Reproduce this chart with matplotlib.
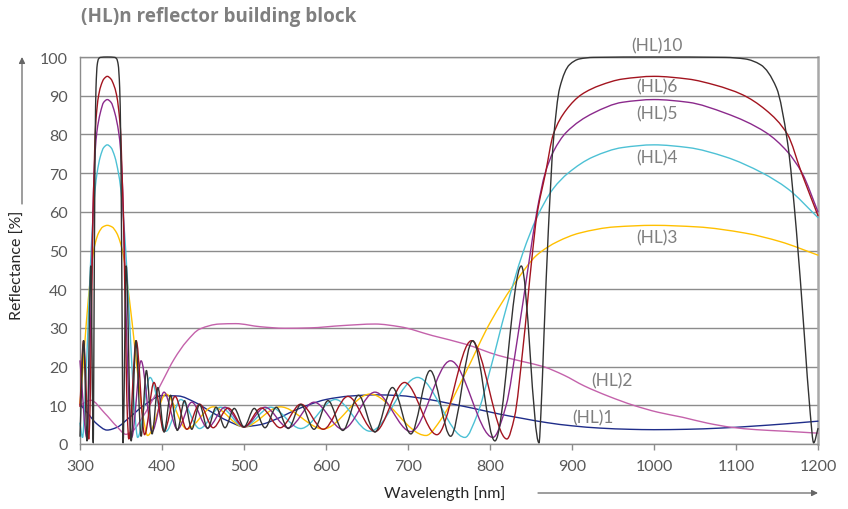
import numpy as np
import matplotlib
matplotlib.use("Agg")
import matplotlib.pyplot as plt
from matplotlib.path import Path
from matplotlib.patches import PathPatch

plt.rcParams['font.family'] = ['Lato', 'DejaVu Sans']

# ---------------- data ----------------
wl_hl1 = [300, 310, 320, 333, 345, 360, 380, 400, 420, 440, 460, 480, 500, 520, 540, 560,
          580, 600, 630, 660, 690, 720, 750, 780, 810, 840, 870, 900, 935, 970, 1000, 1040,
          1080, 1120, 1160, 1200]
r_hl1 = [10.3, 7.8, 5.3, 3.6, 4.3, 6.8, 10.3, 12.5, 12.4, 10.8, 8.3, 6.0, 4.5, 5.0, 6.5, 8.5,
         10.2, 11.5, 12.4, 12.7, 12.5, 11.7, 10.5, 9.2, 7.8, 6.6, 5.5, 4.7, 4.1, 3.8, 3.7, 3.8,
         4.1, 4.6, 5.2, 5.9]

wl_hl2 = [300, 313, 330, 345, 356, 365, 375, 385, 400, 415, 430, 446, 470, 490, 520, 550,
          580, 620, 660, 690, 730, 770, 810, 840, 865, 890, 915, 945, 975, 1005, 1035, 1065,
          1095, 1125, 1160, 1200]
r_hl2 = [10.0, 11.3, 8.0, 4.5, 2.5, 3.5, 6.5, 10.0, 16.0, 22.0, 26.5, 29.7, 31.0, 31.1, 30.3, 29.9,
         30.0, 30.6, 31.0, 30.3, 28.0, 25.8, 22.9, 21.3, 20.0, 17.8, 15.0, 12.3, 10.0, 8.2, 6.9, 5.4,
         4.3, 3.7, 3.3, 2.8]

wl_hl3 = [300, 303.0, 307.7, 312.5, 315.8, 319.1, 322.6, 327.9, 333.3, 339.0, 344.8, 348.8,
          352.9, 357.1, 363.6, 370.4, 377.4, 382.4, 404.9, 430.3, 462.4, 500, 544.2, 596.7,
          653.6, 722.0, 740.7, 769.2, 800, 833.3, 857.1, 882.4, 909.1, 952.4, 1000, 1052.6,
          1111.1, 1153.8, 1200]
r_hl3 = [10.5, 18, 31.3, 42.5, 48.8, 52.3, 54.5, 56.1, 56.5, 56.1, 54.5, 52.3,
         48.8, 42.5, 31.3, 18, 6.5, 2.2, 12.9, 3.9, 9.6, 4.4, 9.6, 3.9,
         12.9, 2.2, 6.5, 18, 31.3, 42.5, 48.8, 52.3, 54.5, 56.1, 56.5, 56.1,
         54.5, 52.3, 48.8]

wl_hl4 = [300, 303.1, 305.3, 307.7, 310.6, 313.5, 315.8, 318.5, 320.8, 324.7, 328.9, 333.3,
          337.8, 342.5, 346.9, 349.7, 352.9, 355.9, 359.7, 363.6, 367.0, 370.3, 385.4, 404.9,
          423.0, 445.8, 471.3, 500, 532.4, 569.3, 611.4, 653.6, 711.7, 769.5, 784.3, 800,
          819.7, 840.3, 857.1, 877.2, 895.3, 925.9, 961.5, 1000, 1041.7, 1087.0, 1132.5,
          1162.8, 1200]
r_hl4 = [5.4, 1.7, 7.5, 19, 35, 49.5, 58.5, 66, 70, 74.2, 76.6, 77.3,
         76.6, 74.2, 70, 66, 58.5, 49.5, 35, 19, 7.5, 1.7, 17.2, 3.3,
         11.5, 4.0, 9.5, 4.4, 9.5, 4.0, 11.5, 3.3, 17.2, 1.7, 7.5, 19,
         35, 49.5, 58.5, 66, 70, 74.2, 76.6, 77.3, 76.6, 74.2, 70,
         66, 58.5]

wl_hl5 = [300, 308.4, 310.6, 312.5, 314.5, 315.8, 317.2, 318.5, 320.5, 324.7, 328.9, 333.3,
          337.8, 342.5, 347.2, 349.7, 351.2, 352.9, 354.6, 357.1, 359.7, 362.9, 374.5, 387.8,
          402.5, 418.7, 436.3, 455.6, 476.8, 500, 525.6, 554.0, 585.4, 620.5, 659.7, 703.5,
          751.8, 803.5, 819.7, 833.3, 847.5, 857.1, 867.3, 877.2, 892.9, 925.9, 961.5, 1000,
          1041.7, 1087.0, 1136.4, 1162.8, 1180.6, 1200]
r_hl5 = [21.5, 1.7, 10, 27, 47, 60, 70, 75.5, 80.5, 85.5, 88.3, 89,
         88.3, 85.5, 80.5, 75.5, 70, 60, 47, 27, 10, 1.7, 21.5, 3.2,
         13.4, 3.8, 10.8, 4.2, 9.5, 4.4, 9.5, 4.2, 10.8, 3.8, 13.4, 3.2,
         21.5, 1.7, 10, 27, 47, 60, 70, 75.5, 80.5, 85.5, 88.3, 89,
         88.3, 85.5, 80.5, 75.5, 70, 60]

wl_hl6 = [300, 304.3, 310.7, 312.0, 313.5, 315.0, 315.8, 317.2, 318.5, 320.5, 322.9, 325.7,
          329.0, 333.3, 337.8, 341.3, 344.5, 347.2, 349.7, 351.2, 352.9, 354.0, 355.9, 357.8,
          359.5, 368.5, 378.8, 390.2, 402.5, 415.9, 430.3, 445.8, 462.4, 480.5, 500, 521.2,
          544.2, 569.3, 596.7, 626.7, 659.7, 695.8, 735.2, 777.5, 820.6, 829.9, 840.3, 851.1,
          857.1, 867.7, 877.2, 892.9, 911.6, 934.6, 961.5, 1000, 1041.7, 1075.3, 1107.4,
          1136.4, 1162.8, 1180.0, 1200]
r_hl6 = [9.7, 26.7, 1.3, 7, 25, 48, 59, 70, 80, 86.3, 90.3, 92.7,
         94.3, 95, 94.3, 92.7, 90.3, 86.3, 80, 70, 59, 48, 25, 7,
         1.3, 26.7, 2.4, 15.9, 3.2, 12.3, 3.8, 10.3, 4.2, 9.3, 4.4, 9.3,
         4.2, 10.3, 3.8, 12.3, 3.2, 15.9, 2.4, 26.7, 1.3, 7, 25, 48,
         59, 70, 80, 86.3, 90.3, 92.7, 94.3, 95, 94.3, 92.7, 90.3,
         86.3, 80, 70, 59]

wl_hl10 = [300, 304.5, 308.5, 313.2, 316.2, 316.5, 317.0, 317.7, 318.5, 319.5, 321.0, 322.6,
           324.7, 333.3, 342.5, 344.8, 346.6, 348.4, 349.7, 350.6, 351.5, 352.1, 352.5, 356.3,
           362.4, 368.2, 374.5, 381.0, 387.9, 395.0, 402.6, 410.4, 418.7, 427.4, 436.3, 445.8,
           455.6, 465.9, 476.8, 488.1, 500, 512.5, 525.6, 539.4, 554.0, 569.3, 585.4, 602.5,
           620.5, 639.6, 659.7, 681.0, 703.5, 727.0, 752.0, 779.0, 806.0, 838.2, 859.8, 862.1,
           865.8, 871.1, 877.2, 885.0, 896.9, 909.1, 925.9, 1000, 1087.0, 1111.1, 1130.0,
           1149.4, 1162.8, 1173.7, 1183.4, 1190.5, 1194.7, 1200]
r_hl10 = [2.0, 26.7, 0.8, 46, 0.3, 8, 28, 55, 78, 92, 98, 99.5,
          99.9, 100, 99.9, 99.5, 98, 92, 78, 55, 28, 8, 0.3, 46,
          0.8, 26.7, 2.0, 19, 2.6, 14.6, 3.1, 12.6, 3.5, 11.2, 3.8, 10.2,
          4.0, 9.5, 4.2, 9.2, 4.4, 9.2, 4.2, 9.5, 4.0, 10.2, 3.8, 11.2,
          3.5, 12.6, 3.1, 14.6, 2.6, 19, 2.0, 26.7, 0.8, 46, 0.3, 8,
          28, 55, 78, 92, 98, 99.5, 99.9, 100, 99.9, 99.5, 98,
          92, 78, 55, 28, 8, 0.3, 4.0]

series_names = ['(HL)1', '(HL)2', '(HL)3', '(HL)4', '(HL)5', '(HL)6', '(HL)10']
series_colors = ['#1f2d8a', '#c462ab', '#ffc000', '#4dc1d5', '#8b2a8c', '#a3141f', '#333333']
series_data = [(wl_hl1, r_hl1), (wl_hl2, r_hl2), (wl_hl3, r_hl3), (wl_hl4, r_hl4),
               (wl_hl5, r_hl5), (wl_hl6, r_hl6), (wl_hl10, r_hl10)]

label_x = [925, 949, 1004, 1004, 1004, 1004, 1003]
label_y = [6.9, 16.4, 53.5, 74.1, 85.5, 92.4, 103.0]

x_ticks = [300, 400, 500, 600, 700, 800, 900, 1000, 1100, 1200]
y_ticks = [0, 10, 20, 30, 40, 50, 60, 70, 80, 90, 100]


def smooth_path(x, y):
    """Smoothed line through the data points (monotone cubic Bezier rendering)."""
    x = np.asarray(x, float)
    y = np.asarray(y, float)
    n = len(x)
    h = np.diff(x)
    d = np.diff(y) / h
    m = np.zeros(n)
    m[0] = d[0]
    m[-1] = d[-1]
    for i in range(1, n - 1):
        if d[i - 1] * d[i] <= 0:
            m[i] = 0.0
        else:
            w1 = 2 * h[i] + h[i - 1]
            w2 = h[i] + 2 * h[i - 1]
            m[i] = (w1 + w2) / (w1 / d[i - 1] + w2 / d[i])
    verts = [(x[0], y[0])]
    codes = [Path.MOVETO]
    for i in range(n - 1):
        verts.append((x[i] + h[i] / 3, y[i] + m[i] * h[i] / 3))
        verts.append((x[i + 1] - h[i] / 3, y[i + 1] - m[i + 1] * h[i] / 3))
        verts.append((x[i + 1], y[i + 1]))
        codes += [Path.CURVE4] * 3
    return Path(verts, codes)


fig = plt.figure(figsize=(8.48, 5.10), dpi=100)
ax = fig.add_axes([80 / 848, 1 - 445 / 510, 738 / 848, 387 / 510])
ax.set_xlim(300, 1200)
ax.set_ylim(0, 100)

grid_c = '#8c8c8c'
ax.set_yticks(y_ticks)
ax.set_xticks(x_ticks)
ax.yaxis.grid(True, color=grid_c, lw=1.0)
ax.set_axisbelow(True)
for s in ['left', 'bottom', 'top']:
    ax.spines[s].set_color(grid_c)
    ax.spines[s].set_linewidth(1.0)
ax.spines['right'].set_color('#a8a8a8')
ax.spines['right'].set_linewidth(1.8)

ax.tick_params(axis='x', length=4, width=1, color=grid_c, labelsize=11.5,
               labelcolor='#595959', pad=7)
ax.tick_params(axis='y', length=0, labelsize=11.5, labelcolor='#595959', pad=9)

for (wl, r), c in zip(series_data, series_colors):
    patch = PathPatch(smooth_path(wl, r), fill=False, edgecolor=c, lw=1.0,
                      clip_on=False, joinstyle='round', capstyle='round', zorder=3)
    ax.add_patch(patch)

for name, lx, ly in zip(series_names, label_x, label_y):
    ax.text(lx, ly, name, ha='center', va='center', fontsize=12.5, color='#7f7f7f',
            zorder=4, clip_on=False)

fig.text(81 / 848, 1 - 17 / 510, '(HL)n reflector building block', ha='left', va='center',
         fontsize=13.6, fontweight='bold', color='#7f7f7f', family=['Open Sans', 'DejaVu Sans'])

fig.text(18 / 848, 1 - 265 / 510, 'Reflectance [%]', rotation=90, ha='center', va='center',
         fontsize=11.5, color='#262626')
fig.text(445 / 848, 1 - 494 / 510, 'Wavelength [nm]', ha='center', va='center',
         fontsize=11.5, color='#262626')

arrow_kw = dict(arrowstyle='-|>', color='#666666', lw=0.9, mutation_scale=9,
                shrinkA=0, shrinkB=0)
ax.annotate('', xy=(22 / 848, 1 - 58 / 510), xytext=(22 / 848, 1 - 205 / 510),
            xycoords='figure fraction', textcoords='figure fraction',
            arrowprops=arrow_kw, annotation_clip=False)
ax.annotate('', xy=(818 / 848, 1 - 494 / 510), xytext=(538 / 848, 1 - 494 / 510),
            xycoords='figure fraction', textcoords='figure fraction',
            arrowprops=arrow_kw, annotation_clip=False)

fig.savefig('out.png', dpi=100)
